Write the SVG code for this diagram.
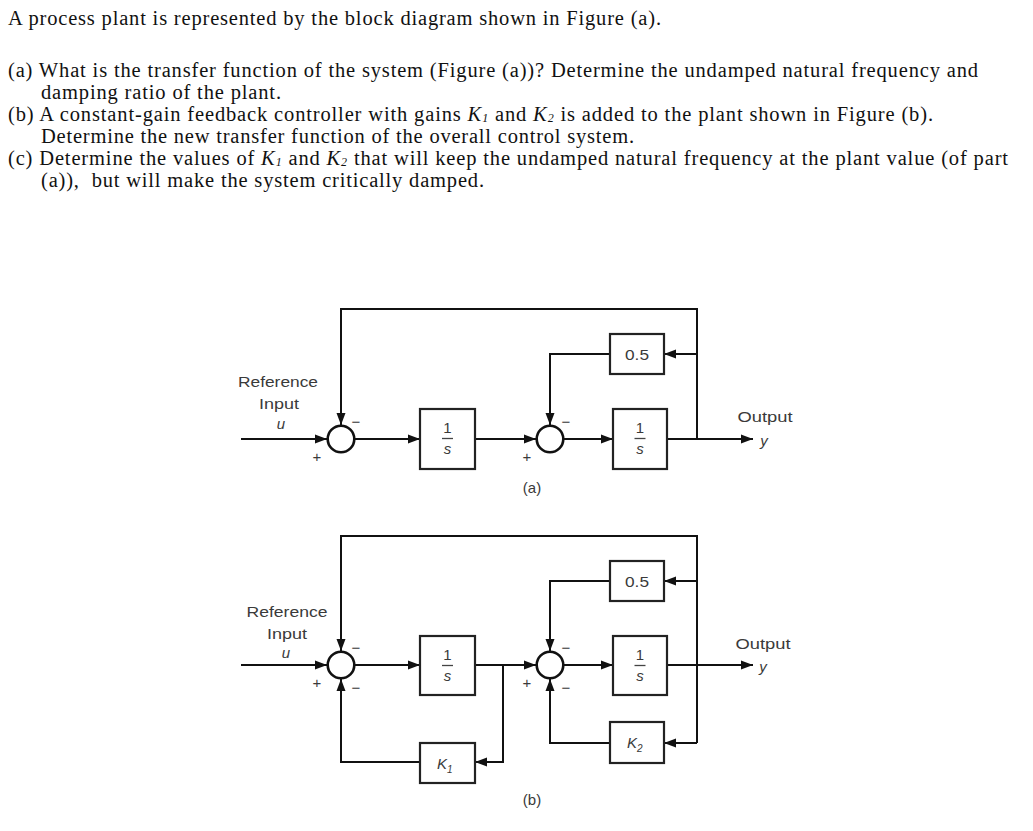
<svg xmlns="http://www.w3.org/2000/svg" width="1033" height="831" viewBox="0 0 1033 831">
<style>
.q{font-family:"Liberation Serif","Times New Roman",serif;font-size:20.5px;fill:#111}
.k{font-style:italic}
.s{font-style:italic;font-size:12px}
.t{font-family:"Liberation Sans",Arial,sans-serif;font-size:15px;fill:#3a3a3a}
.i{font-style:italic}
.ln{fill:none;stroke:#111;stroke-width:2}
.bx{fill:#fff;stroke:#222;stroke-width:2.2}
.sum{fill:#fff;stroke:#111;stroke-width:2.6}
.ar{marker-end:url(#ah)}
</style>
<defs>
<marker id="ah" markerUnits="userSpaceOnUse" markerWidth="12" markerHeight="10" refX="12" refY="5" orient="auto">
<path d="M0,0.5 L12,5 L0,9.5 z" fill="#111"/>
</marker>
</defs>
<rect width="1033" height="831" fill="#fff"/>
<g id="question">
<text class="q" x="8" y="25" textLength="653">A process plant is represented by the block diagram shown in Figure (a).</text>
<text class="q" x="8" y="77" textLength="970">(a) What is the transfer function of the system (Figure (a))? Determine the undamped natural frequency and</text>
<text class="q" x="41" y="99" textLength="240">damping ratio of the plant.</text>
<text class="q" x="8" y="121" textLength="925">(b) A constant-gain feedback controller with gains <tspan class="k">K</tspan><tspan class="s" dy="1">1</tspan><tspan dy="-1"> and </tspan><tspan class="k">K</tspan><tspan class="s" dy="1">2</tspan><tspan dy="-1"> is added to the plant shown in Figure (b).</tspan></text>
<text class="q" x="41" y="143" textLength="593">Determine the new transfer function of the overall control system.</text>
<text class="q" x="8" y="165" textLength="1000">(c) Determine the values of <tspan class="k">K</tspan><tspan class="s" dy="1">1</tspan><tspan dy="-1"> and </tspan><tspan class="k">K</tspan><tspan class="s" dy="1">2</tspan><tspan dy="-1"> that will keep the undamped natural frequency at the plant value (of part</tspan></text>
<text class="q" x="41" y="187" textLength="443">(a)),&#160; but will make the system critically damped.</text>
</g>
<g id="connectors">
<path class="ln ar" d="M241,439 H327"/>
<path class="ln ar" d="M697,439 V309 H341 V425"/>
<path class="ln ar" d="M354,439 H420"/>
<path class="ln ar" d="M475,439 H536"/>
<path class="ln ar" d="M564,439 H613"/>
<path class="ln ar" d="M667,439 H753"/>
<path class="ln ar" d="M697,354 H664"/>
<path class="ln ar" d="M610,354 H550 V425"/>
<path class="ln ar" d="M241,665 H327"/>
<path class="ln ar" d="M697,743 V536 H341 V651"/>
<path class="ln ar" d="M354,665 H420"/>
<path class="ln ar" d="M475,665 H536"/>
<path class="ln ar" d="M564,665 H613"/>
<path class="ln ar" d="M667,665 H753"/>
<path class="ln ar" d="M697,581 H664"/>
<path class="ln ar" d="M610,581 H550 V651"/>
<path class="ln ar" d="M697,743 H664"/>
<path class="ln ar" d="M610,743 H550 V679"/>
<path class="ln ar" d="M503,665 V762 H475"/>
<path class="ln ar" d="M420,762 H341 V679"/>
</g>
<g id="sum1a"><circle class="sum" cx="341" cy="439" r="13.3"/><text class="t" x="317" y="462" text-anchor="middle" font-size="13">+</text><text class="t" x="356" y="427" text-anchor="middle">−</text></g>
<g id="sum2a"><circle class="sum" cx="550" cy="439" r="13.3"/><text class="t" x="527" y="462" text-anchor="middle" font-size="13">+</text><text class="t" x="566" y="427" text-anchor="middle">−</text></g>
<g id="int1a"><rect class="bx" x="420" y="409" width="55" height="60"/><text class="t" x="447.5" y="433" text-anchor="middle">1</text><path d="M442,438.5 H453" stroke="#444" stroke-width="1.3"/><text class="t i" x="447.5" y="454" text-anchor="middle">s</text></g>
<g id="int2a"><rect class="bx" x="613" y="409" width="54" height="60"/><text class="t" x="640" y="433" text-anchor="middle">1</text><path d="M634.5,438.5 H645.5" stroke="#444" stroke-width="1.3"/><text class="t i" x="640" y="454" text-anchor="middle">s</text></g>
<g id="gain05a"><rect class="bx" x="610" y="334" width="54" height="40"/><text class="t" x="637" y="360" text-anchor="middle" textLength="24" lengthAdjust="spacingAndGlyphs">0.5</text></g>
<g id="labelsa">
<text class="t" x="278" y="387" text-anchor="middle" textLength="80" lengthAdjust="spacingAndGlyphs">Reference</text>
<text class="t" x="279" y="409" text-anchor="middle" textLength="40" lengthAdjust="spacingAndGlyphs">Input</text>
<text class="t i" x="281" y="429" text-anchor="middle">u</text>
<text class="t" x="765" y="422" text-anchor="middle" textLength="55" lengthAdjust="spacingAndGlyphs">Output</text>
<text class="t i" x="764" y="446" text-anchor="middle">y</text>
<text class="t" x="532" y="493" text-anchor="middle">(a)</text>
</g>
<g id="sum1b"><circle class="sum" cx="341" cy="665" r="13.3"/><text class="t" x="317" y="688" text-anchor="middle" font-size="13">+</text><text class="t" x="356" y="653" text-anchor="middle">−</text><text class="t" x="356" y="693" text-anchor="middle">−</text></g>
<g id="sum2b"><circle class="sum" cx="550" cy="665" r="13.3"/><text class="t" x="527" y="688" text-anchor="middle" font-size="13">+</text><text class="t" x="566" y="653" text-anchor="middle">−</text><text class="t" x="566" y="693" text-anchor="middle">−</text></g>
<g id="int1b"><rect class="bx" x="420" y="636" width="55" height="59"/><text class="t" x="447.5" y="660" text-anchor="middle">1</text><path d="M442,665.5 H453" stroke="#444" stroke-width="1.3"/><text class="t i" x="447.5" y="681" text-anchor="middle">s</text></g>
<g id="int2b"><rect class="bx" x="613" y="636" width="54" height="59"/><text class="t" x="640" y="660" text-anchor="middle">1</text><path d="M634.5,665.5 H645.5" stroke="#444" stroke-width="1.3"/><text class="t i" x="640" y="681" text-anchor="middle">s</text></g>
<g id="gain05b"><rect class="bx" x="610" y="561" width="54" height="40"/><text class="t" x="637" y="587" text-anchor="middle" textLength="24" lengthAdjust="spacingAndGlyphs">0.5</text></g>
<g id="gainK1"><rect class="bx" x="420" y="743" width="55" height="40"/><text class="t i" x="437" y="769" font-size="16">K<tspan font-size="10" dy="4">1</tspan></text></g>
<g id="gainK2"><rect class="bx" x="610" y="722" width="54" height="41"/><text class="t i" x="627" y="748" font-size="16">K<tspan font-size="10" dy="4">2</tspan></text></g>
<g id="labelsb">
<text class="t" x="287" y="617" text-anchor="middle" textLength="81" lengthAdjust="spacingAndGlyphs">Reference</text>
<text class="t" x="287" y="639" text-anchor="middle" textLength="40" lengthAdjust="spacingAndGlyphs">Input</text>
<text class="t i" x="286" y="658" text-anchor="middle">u</text>
<text class="t" x="763" y="649" text-anchor="middle" textLength="55" lengthAdjust="spacingAndGlyphs">Output</text>
<text class="t i" x="763" y="672" text-anchor="middle">y</text>
<text class="t" x="532" y="805" text-anchor="middle">(b)</text>
</g>
</svg>
